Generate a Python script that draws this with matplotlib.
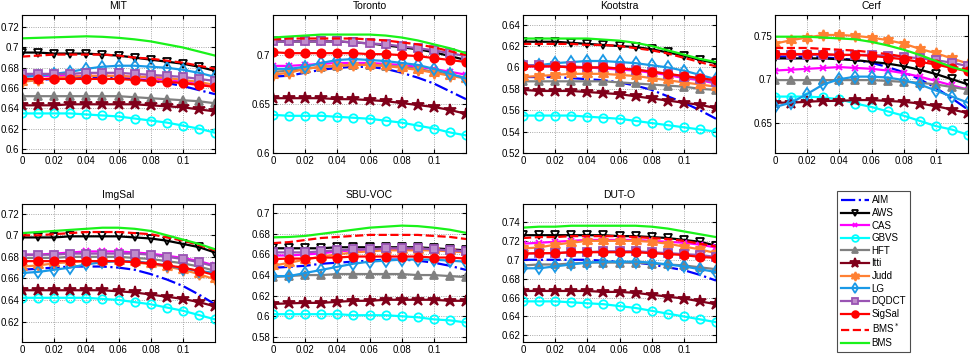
import numpy as np
import matplotlib
matplotlib.use('Agg')
import matplotlib.pyplot as plt
from matplotlib.ticker import FormatStrFormatter

plt.rcParams['font.family'] = ['Liberation Sans', 'DejaVu Sans']
plt.rcParams['font.size'] = 7

methods = ['AIM', 'AWS', 'CAS', 'GBVS', 'HFT', 'Itti', 'Judd', 'LG', 'DQDCT', 'SigSal', 'BMS$^*$', 'BMS']
titles = ['MIT', 'Toronto', 'Kootstra', 'Cerf', 'ImgSal', 'SBU-VOC', 'DUT-O']
sigma = [0, 0.01, 0.02, 0.03, 0.04, 0.05, 0.06, 0.07, 0.08, 0.09, 0.1, 0.11, 0.12]

# rows follow the order of `methods`
mit = [
    [0.667, 0.668, 0.669, 0.670, 0.670, 0.670, 0.670, 0.669, 0.667, 0.665, 0.662, 0.658, 0.654],
    [0.695, 0.695, 0.694, 0.694, 0.694, 0.693, 0.692, 0.690, 0.688, 0.686, 0.684, 0.681, 0.677],
    [0.672, 0.672, 0.672, 0.672, 0.672, 0.672, 0.672, 0.671, 0.670, 0.668, 0.666, 0.664, 0.662],
    [0.635, 0.635, 0.635, 0.635, 0.634, 0.633, 0.632, 0.630, 0.628, 0.626, 0.623, 0.620, 0.616],
    [0.652, 0.652, 0.652, 0.652, 0.652, 0.652, 0.652, 0.651, 0.650, 0.649, 0.648, 0.647, 0.645],
    [0.643, 0.643, 0.643, 0.644, 0.644, 0.644, 0.644, 0.644, 0.643, 0.642, 0.641, 0.639, 0.637],
    [0.666, 0.668, 0.670, 0.671, 0.672, 0.672, 0.672, 0.671, 0.671, 0.670, 0.668, 0.666, 0.663],
    [0.671, 0.672, 0.674, 0.676, 0.679, 0.681, 0.682, 0.682, 0.681, 0.680, 0.678, 0.675, 0.671],
    [0.674, 0.674, 0.674, 0.674, 0.675, 0.675, 0.675, 0.674, 0.673, 0.672, 0.671, 0.669, 0.667],
    [0.669, 0.669, 0.669, 0.669, 0.669, 0.669, 0.669, 0.668, 0.667, 0.666, 0.665, 0.663, 0.661],
    [0.691, 0.692, 0.693, 0.693, 0.693, 0.693, 0.692, 0.690, 0.689, 0.687, 0.685, 0.682, 0.679],
    [0.709, 0.7095, 0.710, 0.7105, 0.711, 0.7105, 0.7095, 0.708, 0.706, 0.703, 0.700, 0.696, 0.692],
]
toronto = [
    [0.678, 0.679, 0.682, 0.685, 0.687, 0.688, 0.688, 0.686, 0.682, 0.677, 0.671, 0.663, 0.655],
    [0.714, 0.714, 0.714, 0.714, 0.714, 0.713, 0.712, 0.710, 0.708, 0.706, 0.703, 0.699, 0.695],
    [0.689, 0.689, 0.690, 0.691, 0.692, 0.692, 0.692, 0.691, 0.690, 0.688, 0.686, 0.683, 0.680],
    [0.639, 0.638, 0.638, 0.638, 0.637, 0.636, 0.635, 0.633, 0.631, 0.628, 0.625, 0.621, 0.618],
    [0.683, 0.684, 0.686, 0.688, 0.689, 0.690, 0.690, 0.689, 0.688, 0.686, 0.683, 0.680, 0.677],
    [0.656, 0.656, 0.656, 0.656, 0.655, 0.655, 0.654, 0.653, 0.651, 0.649, 0.647, 0.644, 0.640],
    [0.680, 0.682, 0.686, 0.688, 0.689, 0.690, 0.690, 0.689, 0.687, 0.685, 0.682, 0.679, 0.676],
    [0.686, 0.686, 0.688, 0.692, 0.695, 0.696, 0.695, 0.694, 0.692, 0.690, 0.686, 0.681, 0.676],
    [0.714, 0.714, 0.714, 0.714, 0.714, 0.713, 0.712, 0.711, 0.709, 0.707, 0.705, 0.702, 0.699],
    [0.703, 0.702, 0.702, 0.702, 0.702, 0.702, 0.701, 0.701, 0.700, 0.699, 0.697, 0.695, 0.693],
    [0.716, 0.717, 0.717, 0.717, 0.717, 0.717, 0.716, 0.715, 0.713, 0.711, 0.708, 0.704, 0.700],
    [0.718, 0.719, 0.720, 0.721, 0.721, 0.721, 0.721, 0.720, 0.718, 0.715, 0.711, 0.707, 0.702],
]
kootstra = [
    [0.591, 0.591, 0.591, 0.590, 0.589, 0.588, 0.586, 0.583, 0.579, 0.573, 0.567, 0.560, 0.552],
    [0.624, 0.624, 0.624, 0.623, 0.622, 0.621, 0.620, 0.619, 0.617, 0.614, 0.611, 0.607, 0.604],
    [0.601, 0.601, 0.601, 0.600, 0.600, 0.599, 0.598, 0.597, 0.595, 0.593, 0.590, 0.588, 0.585],
    [0.555, 0.555, 0.555, 0.555, 0.554, 0.553, 0.552, 0.550, 0.548, 0.546, 0.544, 0.542, 0.540],
    [0.587, 0.587, 0.587, 0.587, 0.587, 0.587, 0.586, 0.585, 0.584, 0.583, 0.582, 0.580, 0.579],
    [0.579, 0.578, 0.578, 0.578, 0.577, 0.576, 0.575, 0.573, 0.571, 0.569, 0.567, 0.565, 0.562],
    [0.591, 0.592, 0.593, 0.594, 0.594, 0.594, 0.593, 0.592, 0.590, 0.588, 0.586, 0.584, 0.582],
    [0.602, 0.602, 0.604, 0.605, 0.606, 0.606, 0.605, 0.604, 0.602, 0.600, 0.597, 0.593, 0.589],
    [0.602, 0.602, 0.601, 0.601, 0.600, 0.600, 0.599, 0.598, 0.596, 0.594, 0.591, 0.589, 0.586],
    [0.601, 0.601, 0.601, 0.600, 0.600, 0.600, 0.599, 0.598, 0.596, 0.594, 0.592, 0.590, 0.588],
    [0.622, 0.622, 0.622, 0.622, 0.621, 0.621, 0.620, 0.618, 0.616, 0.613, 0.609, 0.605, 0.601],
    [0.627, 0.627, 0.627, 0.627, 0.627, 0.626, 0.625, 0.623, 0.620, 0.616, 0.612, 0.608, 0.605],
]
cerf = [
    [0.726, 0.726, 0.726, 0.725, 0.724, 0.722, 0.719, 0.714, 0.708, 0.700, 0.690, 0.678, 0.665],
    [0.724, 0.724, 0.724, 0.724, 0.723, 0.722, 0.720, 0.718, 0.715, 0.711, 0.706, 0.700, 0.694],
    [0.710, 0.711, 0.712, 0.713, 0.714, 0.713, 0.712, 0.710, 0.707, 0.703, 0.698, 0.693, 0.688],
    [0.680, 0.680, 0.680, 0.679, 0.677, 0.672, 0.668, 0.663, 0.658, 0.652, 0.646, 0.642, 0.636],
    [0.699, 0.699, 0.699, 0.699, 0.699, 0.699, 0.699, 0.698, 0.697, 0.696, 0.694, 0.691, 0.688],
    [0.673, 0.673, 0.674, 0.675, 0.675, 0.676, 0.676, 0.675, 0.674, 0.672, 0.669, 0.665, 0.661],
    [0.741, 0.745, 0.748, 0.751, 0.751, 0.750, 0.748, 0.745, 0.741, 0.735, 0.730, 0.724, 0.718],
    [0.668, 0.673, 0.683, 0.694, 0.700, 0.703, 0.703, 0.702, 0.699, 0.694, 0.687, 0.680, 0.673],
    [0.728, 0.728, 0.728, 0.728, 0.728, 0.728, 0.728, 0.727, 0.726, 0.724, 0.722, 0.719, 0.715],
    [0.729, 0.729, 0.729, 0.729, 0.728, 0.728, 0.727, 0.725, 0.723, 0.720, 0.717, 0.713, 0.709],
    [0.736, 0.736, 0.736, 0.735, 0.734, 0.733, 0.731, 0.729, 0.726, 0.723, 0.719, 0.715, 0.711],
    [0.749, 0.749, 0.749, 0.748, 0.747, 0.746, 0.743, 0.739, 0.734, 0.728, 0.721, 0.714, 0.709],
]
imgsal = [
    [0.668, 0.669, 0.670, 0.671, 0.671, 0.671, 0.670, 0.668, 0.664, 0.659, 0.653, 0.645, 0.636],
    [0.698, 0.698, 0.698, 0.699, 0.699, 0.699, 0.699, 0.698, 0.697, 0.695, 0.692, 0.689, 0.684],
    [0.682, 0.682, 0.683, 0.684, 0.685, 0.685, 0.685, 0.684, 0.683, 0.681, 0.679, 0.676, 0.672],
    [0.642, 0.642, 0.642, 0.642, 0.642, 0.641, 0.640, 0.638, 0.636, 0.633, 0.630, 0.626, 0.622],
    [0.679, 0.679, 0.679, 0.680, 0.680, 0.680, 0.680, 0.679, 0.678, 0.676, 0.674, 0.671, 0.667],
    [0.649, 0.649, 0.649, 0.649, 0.649, 0.649, 0.648, 0.647, 0.645, 0.643, 0.641, 0.638, 0.634],
    [0.671, 0.672, 0.674, 0.675, 0.676, 0.676, 0.676, 0.675, 0.673, 0.671, 0.668, 0.664, 0.659],
    [0.665, 0.666, 0.668, 0.670, 0.673, 0.675, 0.676, 0.676, 0.674, 0.672, 0.669, 0.667, 0.665],
    [0.682, 0.682, 0.682, 0.683, 0.683, 0.683, 0.683, 0.683, 0.682, 0.680, 0.678, 0.675, 0.671],
    [0.676, 0.676, 0.676, 0.676, 0.676, 0.676, 0.676, 0.675, 0.674, 0.672, 0.670, 0.667, 0.663],
    [0.700, 0.700, 0.701, 0.702, 0.703, 0.703, 0.703, 0.702, 0.701, 0.698, 0.695, 0.691, 0.686],
    [0.702, 0.703, 0.704, 0.705, 0.706, 0.707, 0.707, 0.706, 0.704, 0.700, 0.696, 0.692, 0.687],
]
sbu_voc = [
    [0.647, 0.648, 0.649, 0.651, 0.652, 0.653, 0.654, 0.655, 0.655, 0.654, 0.652, 0.649, 0.645],
    [0.666, 0.666, 0.666, 0.666, 0.667, 0.667, 0.667, 0.667, 0.667, 0.667, 0.666, 0.665, 0.664],
    [0.659, 0.659, 0.660, 0.661, 0.663, 0.664, 0.665, 0.665, 0.665, 0.665, 0.664, 0.664, 0.663],
    [0.602, 0.602, 0.602, 0.602, 0.602, 0.601, 0.601, 0.601, 0.600, 0.599, 0.597, 0.596, 0.594],
    [0.638, 0.639, 0.640, 0.640, 0.641, 0.641, 0.641, 0.641, 0.641, 0.640, 0.640, 0.639, 0.638],
    [0.612, 0.6125, 0.613, 0.613, 0.614, 0.615, 0.615, 0.616, 0.616, 0.616, 0.616, 0.615, 0.615],
    [0.649, 0.652, 0.655, 0.658, 0.660, 0.662, 0.663, 0.664, 0.664, 0.664, 0.664, 0.663, 0.662],
    [0.639, 0.639, 0.642, 0.645, 0.648, 0.651, 0.653, 0.654, 0.655, 0.655, 0.655, 0.654, 0.653],
    [0.662, 0.662, 0.662, 0.663, 0.664, 0.665, 0.665, 0.666, 0.666, 0.666, 0.665, 0.664, 0.663],
    [0.6555, 0.656, 0.656, 0.657, 0.657, 0.658, 0.658, 0.658, 0.658, 0.658, 0.657, 0.657, 0.656],
    [0.671, 0.672, 0.674, 0.676, 0.677, 0.678, 0.679, 0.679, 0.679, 0.679, 0.678, 0.677, 0.675],
    [0.6766, 0.677, 0.678, 0.680, 0.682, 0.684, 0.686, 0.687, 0.688, 0.6875, 0.686, 0.684, 0.681],
]
dut_o = [
    [0.700, 0.700, 0.700, 0.700, 0.700, 0.699, 0.698, 0.697, 0.695, 0.692, 0.689, 0.684, 0.678],
    [0.726, 0.726, 0.726, 0.726, 0.726, 0.726, 0.725, 0.725, 0.724, 0.723, 0.721, 0.719, 0.715],
    [0.717, 0.718, 0.719, 0.720, 0.721, 0.721, 0.721, 0.721, 0.720, 0.719, 0.718, 0.716, 0.713],
    [0.656, 0.656, 0.656, 0.655, 0.654, 0.653, 0.651, 0.649, 0.646, 0.643, 0.640, 0.637, 0.634],
    [0.694, 0.695, 0.695, 0.696, 0.697, 0.697, 0.697, 0.697, 0.696, 0.695, 0.694, 0.692, 0.690],
    [0.667, 0.667, 0.667, 0.667, 0.667, 0.666, 0.666, 0.665, 0.663, 0.661, 0.659, 0.656, 0.653],
    [0.712, 0.713, 0.716, 0.718, 0.720, 0.720, 0.720, 0.720, 0.719, 0.717, 0.714, 0.711, 0.707],
    [0.691, 0.691, 0.693, 0.695, 0.697, 0.698, 0.698, 0.698, 0.697, 0.695, 0.693, 0.690, 0.687],
    [0.7065, 0.707, 0.707, 0.708, 0.708, 0.709, 0.709, 0.709, 0.708, 0.707, 0.706, 0.705, 0.703],
    [0.7065, 0.707, 0.707, 0.708, 0.708, 0.708, 0.708, 0.708, 0.707, 0.706, 0.705, 0.703, 0.702],
    [0.723, 0.724, 0.724, 0.725, 0.725, 0.725, 0.725, 0.724, 0.723, 0.722, 0.720, 0.717, 0.714],
    [0.734, 0.735, 0.735, 0.736, 0.736, 0.736, 0.736, 0.736, 0.735, 0.733, 0.730, 0.727, 0.724],
]
datasets = [mit, toronto, kootstra, cerf, imgsal, sbu_voc, dut_o]

ylims = [(0.596, 0.732), (0.6, 0.741), (0.52, 0.649), (0.615, 0.774),
         (0.601, 0.729), (0.575, 0.709), (0.613, 0.759)]
yticks = [np.arange(0.60, 0.721, 0.02), [0.6, 0.65, 0.7], np.arange(0.52, 0.641, 0.02),
          [0.65, 0.7, 0.75], np.arange(0.62, 0.721, 0.02), np.arange(0.58, 0.701, 0.02),
          np.arange(0.62, 0.741, 0.02)]

# style per method: color, linestyle, marker, size, face
styles = [
    ((0, 0, 1), '-.', None, 0, None),
    ('k', '-', 'v', 6, 'none'),
    ((1, 0, 1), '-', 'x', 4, None),
    ((0, 1, 1), '-', 'o', 6, 'none'),
    ((0.5, 0.5, 0.5), '-', '^', 6, None),
    ((0.5, 0, 0.1), '-', '*', 9, None),
    ((1, 0.5, 0.2), '-', (6, 1, 0), 8, None),
    ((0.1, 0.6, 0.9), '-', 'd', 6, 'none'),
    ((0.6, 0.33, 0.7), '-', 's', 6, (0.75, 0.55, 0.8)),
    ((1, 0, 0), '-', 'o', 6, None),
    ((1, 0, 0), '--', None, 0, None),
    ((0.1, 0.95, 0.1), '-', None, 0, None),
]

W, H = 973, 359
fig = plt.figure(figsize=(W / 100, H / 100), dpi=100)
lefts = [22, 273, 523, 775]
boxes = [(lefts[i % 4], 15 if i < 4 else 204) for i in range(7)]

handles = []
for i, data in enumerate(datasets):
    l, t = boxes[i]
    ax = fig.add_axes([l / W, 1 - (t + 138) / H, 193 / W, 138 / H])
    for j, row in enumerate(data):
        c, ls, m, ms, fc = styles[j]
        kw = dict(color=c, linestyle=ls, linewidth=1.6)
        if m is not None:
            kw.update(marker=m, markersize=ms, markeredgewidth=1.3)
            if fc is not None:
                kw['markerfacecolor'] = fc
        h, = ax.plot(sigma, row, label=methods[j], **kw)
        if i == 0:
            handles.append(h)
    ax.set_title(titles[i], fontsize=7.5, pad=4)
    ax.set_xlim(0, 0.12)
    ax.set_ylim(*ylims[i])
    ax.set_xticks([0, 0.02, 0.04, 0.06, 0.08, 0.1])
    ax.set_yticks(yticks[i])
    ax.xaxis.set_major_formatter(FormatStrFormatter('%g'))
    ax.yaxis.set_major_formatter(FormatStrFormatter('%g'))
    ax.tick_params(direction='in', length=3, labelsize=7, top=True, right=True, pad=2)
    ax.grid(True, linestyle=':', color='0.55', linewidth=0.6)
    for s in ax.spines.values():
        s.set_linewidth(0.8)

leg = fig.legend(handles=handles, loc='upper left',
                 bbox_to_anchor=(837 / W, 1 - 191 / H), fontsize=7,
                 handlelength=2.8, labelspacing=0.27, borderpad=0.45,
                 handletextpad=0.3, borderaxespad=0, markerscale=0.8,
                 fancybox=False, edgecolor='0.3', framealpha=1)
leg.get_frame().set_linewidth(0.8)

fig.savefig('out.png', dpi=100)
